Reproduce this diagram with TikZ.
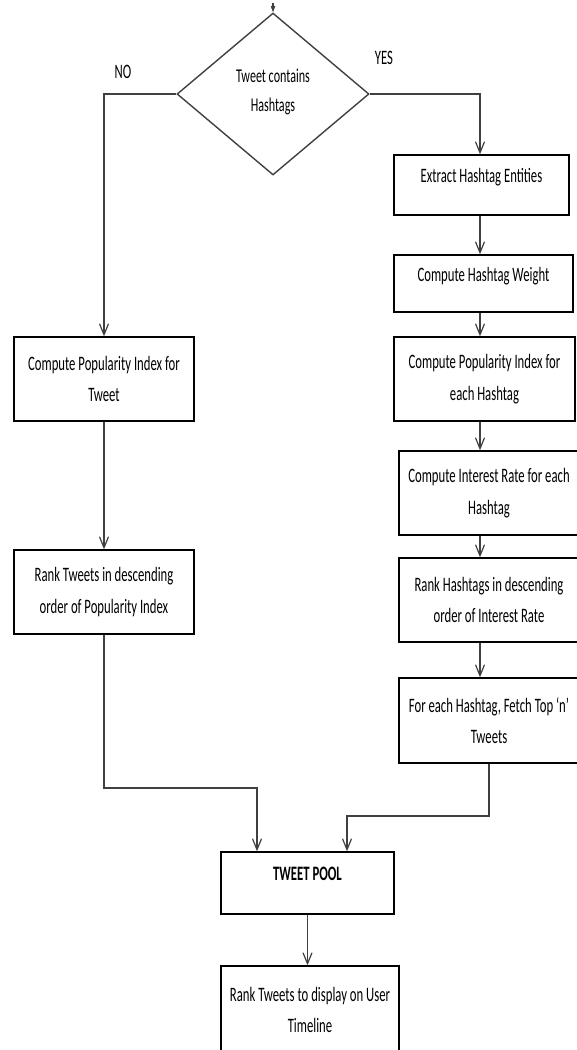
\documentclass[tikz,border=0pt]{standalone}
\usepackage{fontspec}
\setmainfont{Carlito}[FakeStretch=0.62]
\usetikzlibrary{arrows.meta,shapes.geometric}
\definecolor{linegray}{RGB}{64,64,64}

\begin{document}
\begin{tikzpicture}[x=1pt, y=-1pt,
  box/.style={draw=black, line width=1.4pt, rectangle, align=center, inner sep=0pt,
    font=\fontsize{20.5}{31.5}\selectfont},
  oneline/.style={text depth=19pt},
  decision/.style={diamond, draw=linegray, line width=1.4pt, minimum width=192pt,
    minimum height=162pt, inner sep=0pt, align=center, text depth=8pt,
    font=\fontsize{19.5}{29}\selectfont},
  lbl/.style={inner sep=0pt, font=\fontsize{20.5}{31.5}\selectfont},
  flow/.style={draw=linegray, line width=1.2pt, -{Straight Barb[length=11pt,width=9pt]}}]
  \useasboundingbox (0,0) rectangle (577,1050);

  % decision
  \node[decision] (hasTags) at (273,94) {Tweet contains\\Hashtags};
  \node[lbl] (no) at (123,72) {NO};
  \node[lbl] (yes) at (384,58) {YES};

  % left branch
  \node[box, minimum width=180pt, minimum height=84pt] (popTweet) at (104,379)
       {Compute Popularity Index for\\Tweet};
  \node[box, minimum width=180pt, minimum height=84pt] (rankTweet) at (104,592)
       {Rank Tweets in descending\\order of Popularity Index};

  % right branch
  \node[box, oneline, minimum width=175pt, minimum height=60pt] (extract) at (481.5,185)
       {Extract Hashtag Entities};
  \node[box, oneline, minimum width=179pt, minimum height=57pt] (weight) at (483.5,283.5)
       {Compute Hashtag Weight};
  \node[box, minimum width=181pt, minimum height=84pt] (popTag) at (484.5,379)
       {Compute Popularity Index for\\each Hashtag};
  \node[box, minimum width=180pt, minimum height=84pt] (interest) at (489,493)
       {Compute Interest Rate for each\\Hashtag};
  \node[box, minimum width=180pt, minimum height=84pt] (rankTag) at (489,600)
       {Rank Hashtags in descending\\order of Interest Rate};
  \node[box, minimum width=180pt, minimum height=85pt] (fetch) at (489,720.5)
       {For each Hashtag, Fetch Top ‘n’\\Tweets};

  % merge
  \node[box, oneline, minimum width=173pt, minimum height=62pt] (pool) at (307.5,883)
       {\bfseries TWEET POOL};
  \node[box, minimum width=178pt, minimum height=88pt] (timeline) at (310,1010)
       {Rank Tweets to display on User\\Timeline};

  % connectors
  \coordinate (entry) at (273,3);
  \coordinate (spine) at (480,0);
  \coordinate (joinL) at (257,788);
  \coordinate (joinR) at (347,816);
  \draw[linegray, line width=1.6pt, -{Straight Barb[length=4pt,width=3pt]}] (entry) -- (hasTags.north);
  \draw[flow] (hasTags.west) -| (popTweet.north);
  \draw[flow] (hasTags.east) -| (extract.north -| spine);
  \foreach \from/\to in {extract/weight, weight/popTag, popTag/interest, interest/rankTag, rankTag/fetch}
    \draw[flow] (\from.south -| spine) -- (\to.north -| spine);
  \draw[flow] (popTweet) -- (rankTweet);
  \draw[flow] (rankTweet.south) |- (joinL) -- (joinL |- pool.north);
  \draw[flow] (fetch.south) |- (joinR) -- (joinR |- pool.north);
  \draw[flow] (pool.south) -- (pool.south |- timeline.north);
\end{tikzpicture}
\end{document}
